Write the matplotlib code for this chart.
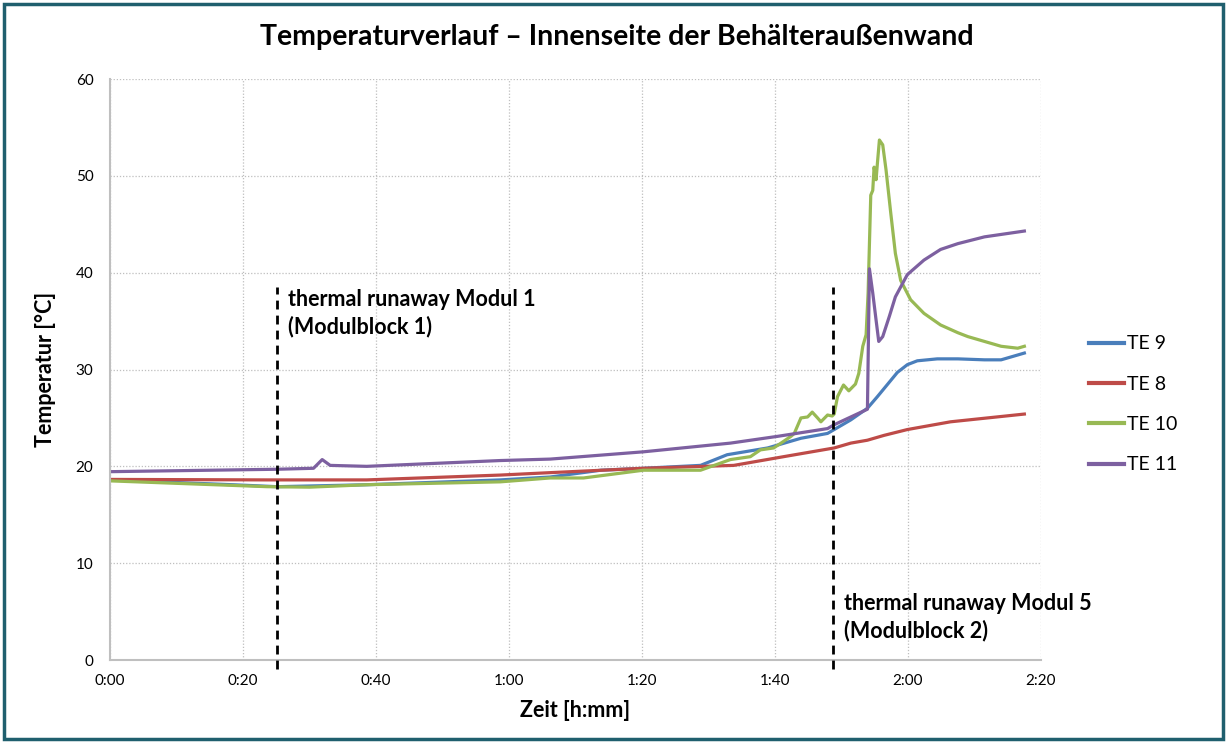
import matplotlib
matplotlib.use("Agg")
import matplotlib.pyplot as plt
from matplotlib.patches import Rectangle
from matplotlib.ticker import FixedLocator, FuncFormatter

# time in minutes, temperature in °C
t_te9 = [0, 18.5, 25.1, 38.6, 58.7, 66.2, 73.8, 80.2, 88.8, 92.8, 98.9, 103.9,
         107.9, 111.4, 113.9, 115.4, 118.4, 119.9, 121.4, 124.4, 127.5, 131.5, 134.0, 137.5]
te9 = [18.6, 18.1, 17.9, 18.1, 18.6, 18.9, 19.6, 19.8, 20.1, 21.2, 21.9, 22.9,
       23.4, 24.8, 26.0, 27.2, 29.7, 30.5, 30.9, 31.1, 31.1, 31.0, 31.0, 31.7]

t_te8 = [0, 23.6, 38.6, 58.7, 66.2, 80.2, 93.8, 101.3, 108.9, 111.4, 113.9, 116.4,
         119.9, 126.4, 137.5]
te8 = [18.65, 18.6, 18.6, 19.1, 19.35, 19.8, 20.1, 21.0, 21.9, 22.4, 22.7, 23.2,
       23.8, 24.6, 25.4]

t_te10 = [0, 23.6, 30, 38.6, 58.7, 66.2, 71.2, 80.2, 88.8, 93.3, 96.3, 97.8, 99.8,
          100.9, 102.4, 102.9, 103.9, 104.9, 105.6, 106.4, 106.9, 107.9, 108.6, 108.9,
          109.4, 110.3, 111.1, 112.1, 112.6, 112.9, 113.2, 113.7, 114.0, 114.4, 114.7,
          114.9, 115.2, 115.4, 115.7, 116.2, 116.7, 117.4, 118.1, 118.9, 120.4, 122.4,
          124.9, 127.5, 129.0, 131.5, 134.0, 136.5, 137.5]
te10 = [18.5, 17.9, 17.85, 18.1, 18.4, 18.8, 18.8, 19.6, 19.6, 20.7, 21.0, 21.7, 21.9,
        22.4, 23.1, 23.4, 25.0, 25.1, 25.6, 25.0, 24.6, 25.3, 25.2, 25.4,
        27.2, 28.4, 27.8, 28.5, 29.6, 31.0, 32.4, 33.6, 37.9, 48.0, 48.5,
        50.9, 49.6, 51.3, 53.7, 53.2, 50.6, 46.2, 42.0, 39.2, 37.2, 35.8,
        34.6, 33.8, 33.4, 32.9, 32.4, 32.2, 32.4]

t_te11 = [0, 25.1, 30.6, 31.9, 33.1, 38.6, 48.6, 58.7, 66.2, 80.2, 93.3, 100.4, 107.9,
          108.9, 113.9, 114.2, 114.7, 115.2, 115.6, 116.2, 117.2, 118.1, 119.9, 122.4,
          124.9, 127.5, 131.5, 137.5]
te11 = [19.45, 19.7, 19.8, 20.7, 20.1, 20.0, 20.3, 20.6, 20.75, 21.5, 22.4, 23.1, 23.9,
        24.3, 25.9, 40.4, 37.9, 35.1, 32.9, 33.4, 35.5, 37.5, 39.8, 41.3,
        42.4, 43.0, 43.7, 44.3]

series_names = ["TE 9", "TE 8", "TE 10", "TE 11"]
series_colors = ["#4A7EBB", "#BE4B48", "#98B954", "#7D60A0"]

event_times = [25.1, 108.7]
event_labels = ["thermal runaway Modul 1\n(Modulblock 1)",
                "thermal runaway Modul 5\n(Modulblock 2)"]

x_ticks = [0, 20, 40, 60, 80, 100, 120, 140]
y_ticks = [0, 10, 20, 30, 40, 50, 60]

plt.rcParams['font.family'] = ['Lato', 'DejaVu Sans']

fig = plt.figure(figsize=(12.27, 7.42), dpi=100)
fig.patches.append(Rectangle((0.003, 0.004), 0.994, 0.991, transform=fig.transFigure,
                             fill=False, edgecolor="#1F5F6E", linewidth=2.5))

ax = fig.add_axes([0.0897, 0.1105, 0.7587, 0.783])

for t, v, name, c in zip([t_te9, t_te8, t_te10, t_te11], [te9, te8, te10, te11],
                         series_names, series_colors):
    ax.plot(t, v, color=c, lw=2.3, label=name, solid_joinstyle='round')

for et in event_times:
    ax.plot([et, et], [-0.9, 38.5], color="black", lw=2.0, ls=(0, (3.2, 2.2)),
            clip_on=False, zorder=5)

ax.text(26.8, 38.3, event_labels[0], fontsize=15.5, fontweight='bold', va='top', ha='left',
        linespacing=1.3)
ax.text(110.4, 6.9, event_labels[1], fontsize=15.5, fontweight='bold', va='top', ha='left',
        linespacing=1.3)

ax.set_xlim(0, 140)
ax.set_ylim(0, 60)
ax.xaxis.set_major_locator(FixedLocator(x_ticks))
ax.yaxis.set_major_locator(FixedLocator(y_ticks))
ax.xaxis.set_major_formatter(FuncFormatter(lambda v, p: f"{int(v)//60}:{int(v)%60:02d}"))
ax.grid(True, color="#BFBFBF", ls=(0, (1, 1.5)), lw=0.9)
ax.set_axisbelow(True)
for s in ["top", "right"]:
    ax.spines[s].set_visible(False)
for s in ["left", "bottom"]:
    ax.spines[s].set_color("#BFBFBF")
    ax.spines[s].set_linewidth(1.5)
ax.tick_params(length=0, labelsize=11, pad=10)
ax.tick_params(axis='y', pad=12)

ax.set_xlabel("Zeit [h:mm]", fontsize=15.5, fontweight='bold', labelpad=9)
ax.set_ylabel("Temperatur [°C]", fontsize=15.5, fontweight='bold', labelpad=14)
fig.suptitle("Temperaturverlauf – Innenseite der Behälteraußenwand", x=0.503, y=0.968,
             fontsize=20.5, fontweight='bold')

leg = fig.legend(loc='center left', bbox_to_anchor=(0.873, 0.455), frameon=False,
                 fontsize=14, handlelength=1.8, handletextpad=0.15, labelspacing=1.2)
for h in leg.get_lines():
    h.set_linewidth(3)

fig.savefig("out.png", dpi=100)
